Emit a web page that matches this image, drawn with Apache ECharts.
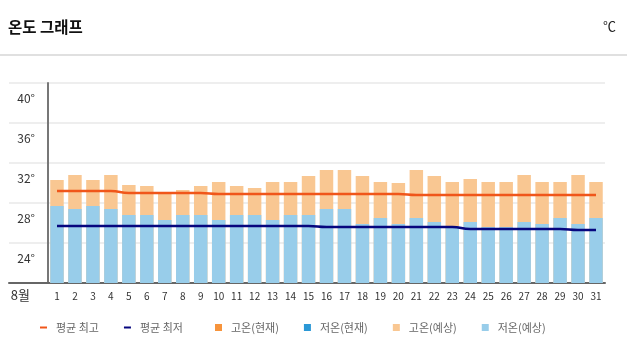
<!DOCTYPE html>
<html>
<head>
<meta charset="utf-8">
<script src="https://cdn.jsdelivr.net/npm/echarts@6/dist/echarts.min.js"></script>
<style>
html,body{margin:0;padding:0;background:#fff;}
#chart{width:627px;height:357px;}
</style>
</head>
<body>
<div id="chart"></div>
<script>
// ---- data ----
const monthLabel = '8월';
const days = ['1','2','3','4','5','6','7','8','9','10','11','12','13','14','15','16','17','18','19','20','21','22','23','24','25','26','27','28','29','30','31'];
const yTicks = [20, 24, 28, 32, 36, 40];
const highNow = [];
const lowNow = [];
const highFcst = [30.3,30.8,30.3,30.8,29.8,29.7,29.1,29.3,29.7,30.1,29.7,29.5,30.1,30.1,30.7,31.3,31.3,30.7,30.1,30.0,31.3,30.7,30.1,30.4,30.1,30.1,30.8,30.1,30.1,30.8,30.1];
const lowFcst  = [27.7,27.4,27.7,27.4,26.8,26.8,26.3,26.8,26.8,26.3,26.8,26.8,26.3,26.8,26.8,27.4,27.4,25.9,26.5,25.9,26.5,26.1,25.7,26.1,25.6,25.6,26.1,25.9,26.5,25.9,26.5];
const avgHigh  = [29.2,29.2,29.2,29.2,29.0,29.0,29.0,29.0,29.0,28.9,28.9,28.9,28.9,28.9,28.9,28.9,28.9,28.9,28.9,28.9,28.8,28.8,28.8,28.8,28.8,28.8,28.8,28.8,28.8,28.8,28.8];
const avgLow   = [25.7,25.7,25.7,25.7,25.7,25.7,25.7,25.7,25.7,25.7,25.7,25.7,25.7,25.7,25.7,25.6,25.6,25.6,25.6,25.6,25.6,25.6,25.6,25.4,25.4,25.4,25.4,25.4,25.4,25.3,25.3];

const FONT = '"Noto Sans CJK KR", "Noto Sans", sans-serif';
const NUMFONT = '"Liberation Sans Narrow", "Noto Sans CJK KR", sans-serif';
const yMin = yTicks[0], yMax = yTicks[yTicks.length - 1], yStep = yTicks[1] - yTicks[0];

const chart = echarts.init(document.getElementById('chart'), null, {renderer: 'canvas'});
const barBase = {type: 'bar', barWidth: '75%', barGap: '-100%', xAxisIndex: 0, yAxisIndex: 0};
chart.setOption({
  animation: false,
  backgroundColor: '#fff',
  title: [
    {text: '온도 그래프', left: 8, top: 19, padding: 0,
     textStyle: {fontFamily: FONT, fontSize: 15.5, fontWeight: 'bold', color: '#111'}},
    {text: '℃', right: 11, top: 20, padding: 0,
     textStyle: {fontFamily: FONT, fontSize: 13, fontWeight: 'normal', color: '#222'}}
  ],
  graphic: [{
    type: 'line', shape: {x1: 0, y1: 55, x2: 627, y2: 55},
    style: {stroke: '#e0e0e0', lineWidth: 2}, silent: true
  }],
  legend: [
    {data: ['평균 최고', '평균 최저'], left: 40, top: 322, padding: 0, icon: 'rect',
     itemWidth: 7, itemHeight: 2, itemGap: 25,
     textStyle: {fontFamily: FONT, fontSize: 11, color: '#666', padding: [0, 0, 0, 4]}},
    {data: ['고온(현재)', '저온(현재)', '고온(예상)', '저온(예상)'], left: 215, top: 322, padding: 0, icon: 'rect',
     itemWidth: 7, itemHeight: 7, itemGap: 25,
     textStyle: {fontFamily: FONT, fontSize: 11, color: '#666', padding: [0, 0, 0, 4]}}
  ],
  grid: [
    {left: 48, right: 22, top: 83, bottom: 74, containLabel: false},
    {left: 9, width: 39, top: 83, bottom: 74, containLabel: false}
  ],
  xAxis: [
    {type: 'category', gridIndex: 0, data: days, boundaryGap: true,
     axisLine: {show: true, lineStyle: {color: '#666', width: 2}},
     axisTick: {show: false},
     axisLabel: {margin: 8, fontFamily: NUMFONT, fontSize: 10, color: '#333', interval: 0}},
    {type: 'value', gridIndex: 1, min: 0, max: 1,
     axisLine: {show: true, onZero: false, lineStyle: {color: '#666', width: 2}},
     axisTick: {show: false}, axisLabel: {show: false}, splitLine: {show: false}}
  ],
  yAxis: [
    {type: 'value', gridIndex: 0, min: yMin, max: yMax, interval: yStep,
     name: monthLabel, nameLocation: 'start', nameGap: 12,
     nameTextStyle: {fontFamily: FONT, fontSize: 13, color: '#333', align: 'right', verticalAlign: 'middle', padding: [0, 18, 0, 0]},
     axisLine: {show: true, lineStyle: {color: '#777', width: 2}},
     axisTick: {show: false},
     axisLabel: {margin: 13, color: '#333', verticalAlign: 'top',
       formatter: v => v === yMin ? '' : '{t|' + v + '°}',
       rich: {t: {fontFamily: NUMFONT, fontSize: 12, color: '#333', padding: [9.5, 0, 0, 0]}}},
     splitLine: {show: true, lineStyle: {color: '#eeeeee', width: 2}}},
    {type: 'value', gridIndex: 1, min: yMin, max: yMax, interval: yStep,
     axisLine: {show: false}, axisTick: {show: false}, axisLabel: {show: false},
     splitLine: {show: true, lineStyle: {color: '#eeeeee', width: 2}}}
  ],
  series: [
    Object.assign({}, barBase, {name: '고온(현재)', data: highNow, itemStyle: {color: '#f7943c'}}),
    Object.assign({}, barBase, {name: '저온(현재)', data: lowNow, itemStyle: {color: '#2b98d6'}}),
    Object.assign({}, barBase, {name: '고온(예상)', data: highFcst, itemStyle: {color: '#f9c792'}}),
    Object.assign({}, barBase, {name: '저온(예상)', data: lowFcst, itemStyle: {color: '#98cdea'}}),
    {type: 'line', name: '평균 최고', data: avgHigh, showSymbol: false, smooth: true, smoothMonotone: 'x',
     lineStyle: {color: '#f0561a', width: 2.5}, itemStyle: {color: '#f0561a'}, z: 5},
    {type: 'line', name: '평균 최저', data: avgLow, showSymbol: false, smooth: true, smoothMonotone: 'x',
     lineStyle: {color: '#06067e', width: 2.5}, itemStyle: {color: '#06067e'}, z: 5}
  ]
});
</script>
</body>
</html>
